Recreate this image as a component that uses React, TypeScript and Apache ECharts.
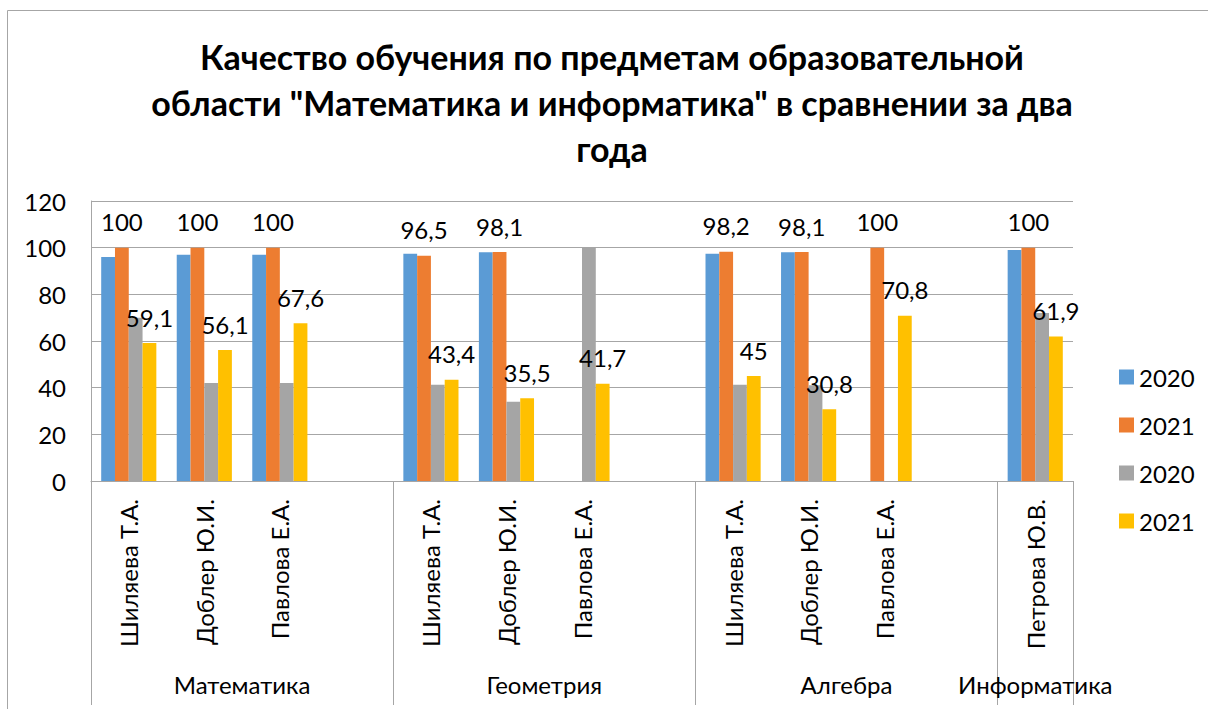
import React, { useEffect, useRef } from 'react';
import * as echarts from 'echarts';

const FONT = 'Lato, "Noto Sans", "DejaVu Sans", sans-serif';

const titleLines = [
  'Качество обучения по предметам образовательной',
  'области "Математика и информатика" в сравнении за два',
  'года',
];

const categories = [
  'Шиляева Т.А.', 'Доблер Ю.И.', 'Павлова Е.А.', '',
  'Шиляева Т.А.', 'Доблер Ю.И.', 'Павлова Е.А.', '',
  'Шиляева Т.А.', 'Доблер Ю.И.', 'Павлова Е.А.', '',
  'Петрова Ю.В.',
];

const groupNames = ['Математика', 'Геометрия', 'Алгебра', 'Информатика'];
const groupSizes = [4, 4, 4, 1];

const seriesNames = ['2020', '2021', '2020 ', '2021 '];

const s2020a = [96, 97, 97, null, 97.4, 98, null, null, 97.4, 98, null, null, 99];
const s2021a = [100, 100, 100, null, 96.5, 98.1, null, null, 98.2, 98.1, 100, null, 100];
const s2020b = [70, 42, 42, null, 41.3, 34, 100, null, 41.3, 41, null, null, 72];
const s2021b = [59.1, 56.1, 67.6, null, 43.4, 35.5, 41.7, null, 45, 30.8, 70.8, null, 61.9];

const yMin = 0;
const yMax = 120;
const yInterval = 20;

const seriesColors = ['#5B9BD5', '#ED7D31', '#A5A5A5', '#FFC000'];
const labelledSeries = [false, true, false, true];

export default function App() {
  const ref = useRef<HTMLDivElement>(null);

  useEffect(() => {
    const chart = echarts.init(ref.current!, null, { renderer: 'svg' });
    const bounds: number[] = [0];
    groupSizes.forEach((s) => bounds.push(bounds[bounds.length - 1] + s));
    const centers = groupSizes.map((s, i) => bounds[i] + s / 2);
    const total = bounds[bounds.length - 1];
    const fmt = (v: number) => String(v).replace('.', ',');
    const seriesData = [s2020a, s2021a, s2020b, s2021b];
    const lineColor = '#a6a6a6';

    chart.setOption({
      animation: false,
      backgroundColor: '#ffffff',
      textStyle: { fontFamily: FONT },
      graphic: [
        {
          type: 'rect',
          silent: true,
          z: -10,
          shape: { x: 7.5, y: 10.5, width: 1400, height: 900 },
          style: { fill: 'none', stroke: lineColor, lineWidth: 1 },
        },
        {
          type: 'text',
          x: 612,
          y: 33,
          style: {
            text: titleLines.join('\n'),
            font: `bold 34px ${FONT}`,
            fill: '#000',
            align: 'center',
            verticalAlign: 'top',
            lineHeight: 46,
          },
        },
      ],
      grid: {
        left: 91,
        right: 135,
        top: 201,
        bottom: 228,
        containLabel: false,
        outerBoundsMode: 'none',
      },
      legend: {
        orient: 'vertical',
        left: 1114,
        top: 360,
        itemWidth: 15,
        itemHeight: 15,
        itemGap: 24,
        icon: 'rect',
        data: seriesNames,
        textStyle: { fontSize: 24, lineHeight: 24, color: '#000', fontFamily: FONT },
      },
      xAxis: [
        {
          type: 'category',
          data: categories,
          axisLine: { show: true, lineStyle: { color: lineColor } },
          axisTick: { show: false },
          axisLabel: {
            interval: 0,
            rotate: 90,
            margin: 18,
            fontSize: 24,
            color: '#000',
            fontFamily: FONT,
          },
        },
        {
          type: 'value',
          position: 'bottom',
          min: 0,
          max: total,
          axisLine: { show: false },
          splitLine: { show: false },
          axisTick: {
            show: true,
            customValues: bounds,
            length: 224,
            lineStyle: { color: lineColor },
          },
          axisLabel: {
            customValues: centers,
            formatter: (v: number) => {
              const i = centers.findIndex((c) => Math.abs(c - v) < 1e-6);
              return i >= 0 ? groupNames[i] : '';
            },
            margin: 191,
            fontSize: 24,
            color: '#000',
            fontFamily: FONT,
          },
        },
      ],
      yAxis: {
        type: 'value',
        min: yMin,
        max: yMax,
        interval: yInterval,
        axisLine: { show: true, lineStyle: { color: lineColor } },
        axisTick: { show: false },
        splitLine: { show: true, lineStyle: { color: lineColor } },
        axisLabel: { fontSize: 24, margin: 25, color: '#000', fontFamily: FONT },
      },
      series: seriesNames.map((name, i) => ({
        name,
        type: 'bar',
        xAxisIndex: 0,
        data: seriesData[i],
        barGap: '0%',
        barCategoryGap: '27%',
        itemStyle: { color: seriesColors[i] },
        label: {
          show: labelledSeries[i],
          position: 'top',
          distance: 14,
          fontSize: 24,
          color: '#000',
          fontFamily: FONT,
          formatter: (p: any) => (p.value == null ? '' : fmt(p.value)),
        },
      })),
    });

    return () => chart.dispose();
  }, []);

  return (
    <div
      ref={ref}
      style={{ position: 'fixed', left: 0, top: 0, width: 1208, height: 709, background: '#fff' }}
    />
  );
}
